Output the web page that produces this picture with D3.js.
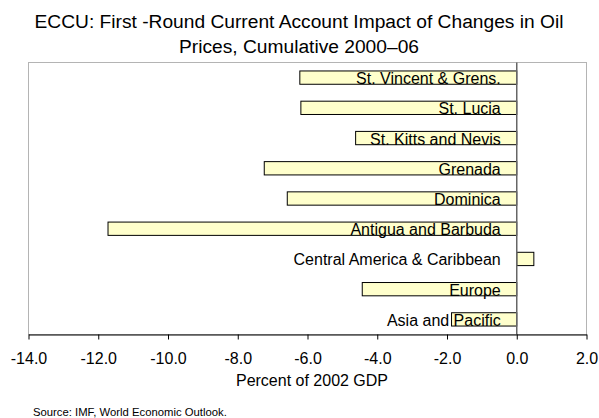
<!DOCTYPE html>
<meta charset="utf-8">
<style>
html, body {
  margin: 0;
  background: #fff;
  font-family: "Liberation Sans", Arial, sans-serif;
}
</style>
<svg width="599" height="418"></svg>
<script src="https://cdn.jsdelivr.net/npm/d3@7"></script>
<script>
const categories = [
  'St. Vincent & Grens.',
  'St. Lucia',
  'St. Kitts and Nevis',
  'Grenada',
  'Dominica',
  'Antigua and Barbuda',
  'Central America & Caribbean',
  'Europe',
  'Asia and Pacific'
];
const values = [-6.22, -6.19, -4.62, -7.24, -6.58, -11.72, 0.49, -4.43, -1.87];
const xTicks = [-14, -12, -10, -8, -6, -4, -2, 0, 2];

const svg = d3.select('svg');
const plotLeft = 28.5, plotRight = 586.5, plotTop = 62.5, plotBottom = 334.5;

const x = d3.scaleLinear().domain([-14, 2]).range([plotLeft, plotRight]);
const y = d3.scaleBand().domain(categories).range([plotTop, plotBottom]).paddingInner(0.56).paddingOuter(0.28);

// title
svg.append('text')
  .attr('x', 299).attr('y', 27.5)
  .attr('text-anchor', 'middle')
  .attr('font-size', 19.2)
  .text('ECCU: First -Round Current Account Impact of Changes in Oil');
svg.append('text')
  .attr('x', 299).attr('y', 52.5)
  .attr('text-anchor', 'middle')
  .attr('font-size', 19.2)
  .text('Prices, Cumulative 2000\u201306');

// plot frame
svg.append('rect')
  .attr('x', plotLeft).attr('y', plotTop)
  .attr('width', plotRight - plotLeft).attr('height', plotBottom - plotTop)
  .attr('fill', 'none')
  .attr('stroke', '#b4b4b4')
  .attr('stroke-width', 1);

// bars
svg.append('g')
  .selectAll('rect')
  .data(values)
  .enter()
  .append('rect')
  .attr('x', d => x(Math.min(0, d)))
  .attr('y', (d, i) => y(categories[i]))
  .attr('width', d => Math.abs(x(d) - x(0)))
  .attr('height', y.bandwidth())
  .attr('fill', '#ffffcc')
  .attr('stroke', '#000')
  .attr('stroke-width', 1);

// zero line
svg.append('line')
  .attr('x1', x(0)).attr('x2', x(0))
  .attr('y1', plotTop).attr('y2', plotBottom)
  .attr('stroke', '#666')
  .attr('stroke-width', 1.5);

// category labels
svg.append('g')
  .selectAll('text')
  .data(categories)
  .enter()
  .append('text')
  .attr('x', x(0) - 16)
  .attr('y', d => y(d) + y.bandwidth() / 2 + 6.5)
  .attr('text-anchor', 'end')
  .attr('font-size', 16)
  .text(d => d);

// x axis
const axis = svg.append('g')
  .attr('transform', `translate(0,${plotBottom})`)
  .call(d3.axisBottom(x).tickValues(xTicks).tickSize(5).tickSizeOuter(0).tickFormat(d3.format('.1f')));
axis.select('.domain').attr('stroke', '#000');
axis.selectAll('.tick line').attr('stroke', '#000');
axis.selectAll('.tick text')
  .attr('font-family', '"Liberation Sans", Arial, sans-serif')
  .attr('font-size', 16)
  .attr('fill', '#000')
  .attr('dy', null)
  .attr('y', 29)
  .text(d => d3.format('.1f')(d).replace('\u2212', '-'));

svg.append('text')
  .attr('x', 312).attr('y', 385.5)
  .attr('text-anchor', 'middle')
  .attr('font-size', 16)
  .text('Percent of 2002 GDP');

svg.append('text')
  .attr('x', 33).attr('y', 415.5)
  .attr('font-size', 11.3)
  .text('Source: IMF, World Economic Outlook.');
</script>
